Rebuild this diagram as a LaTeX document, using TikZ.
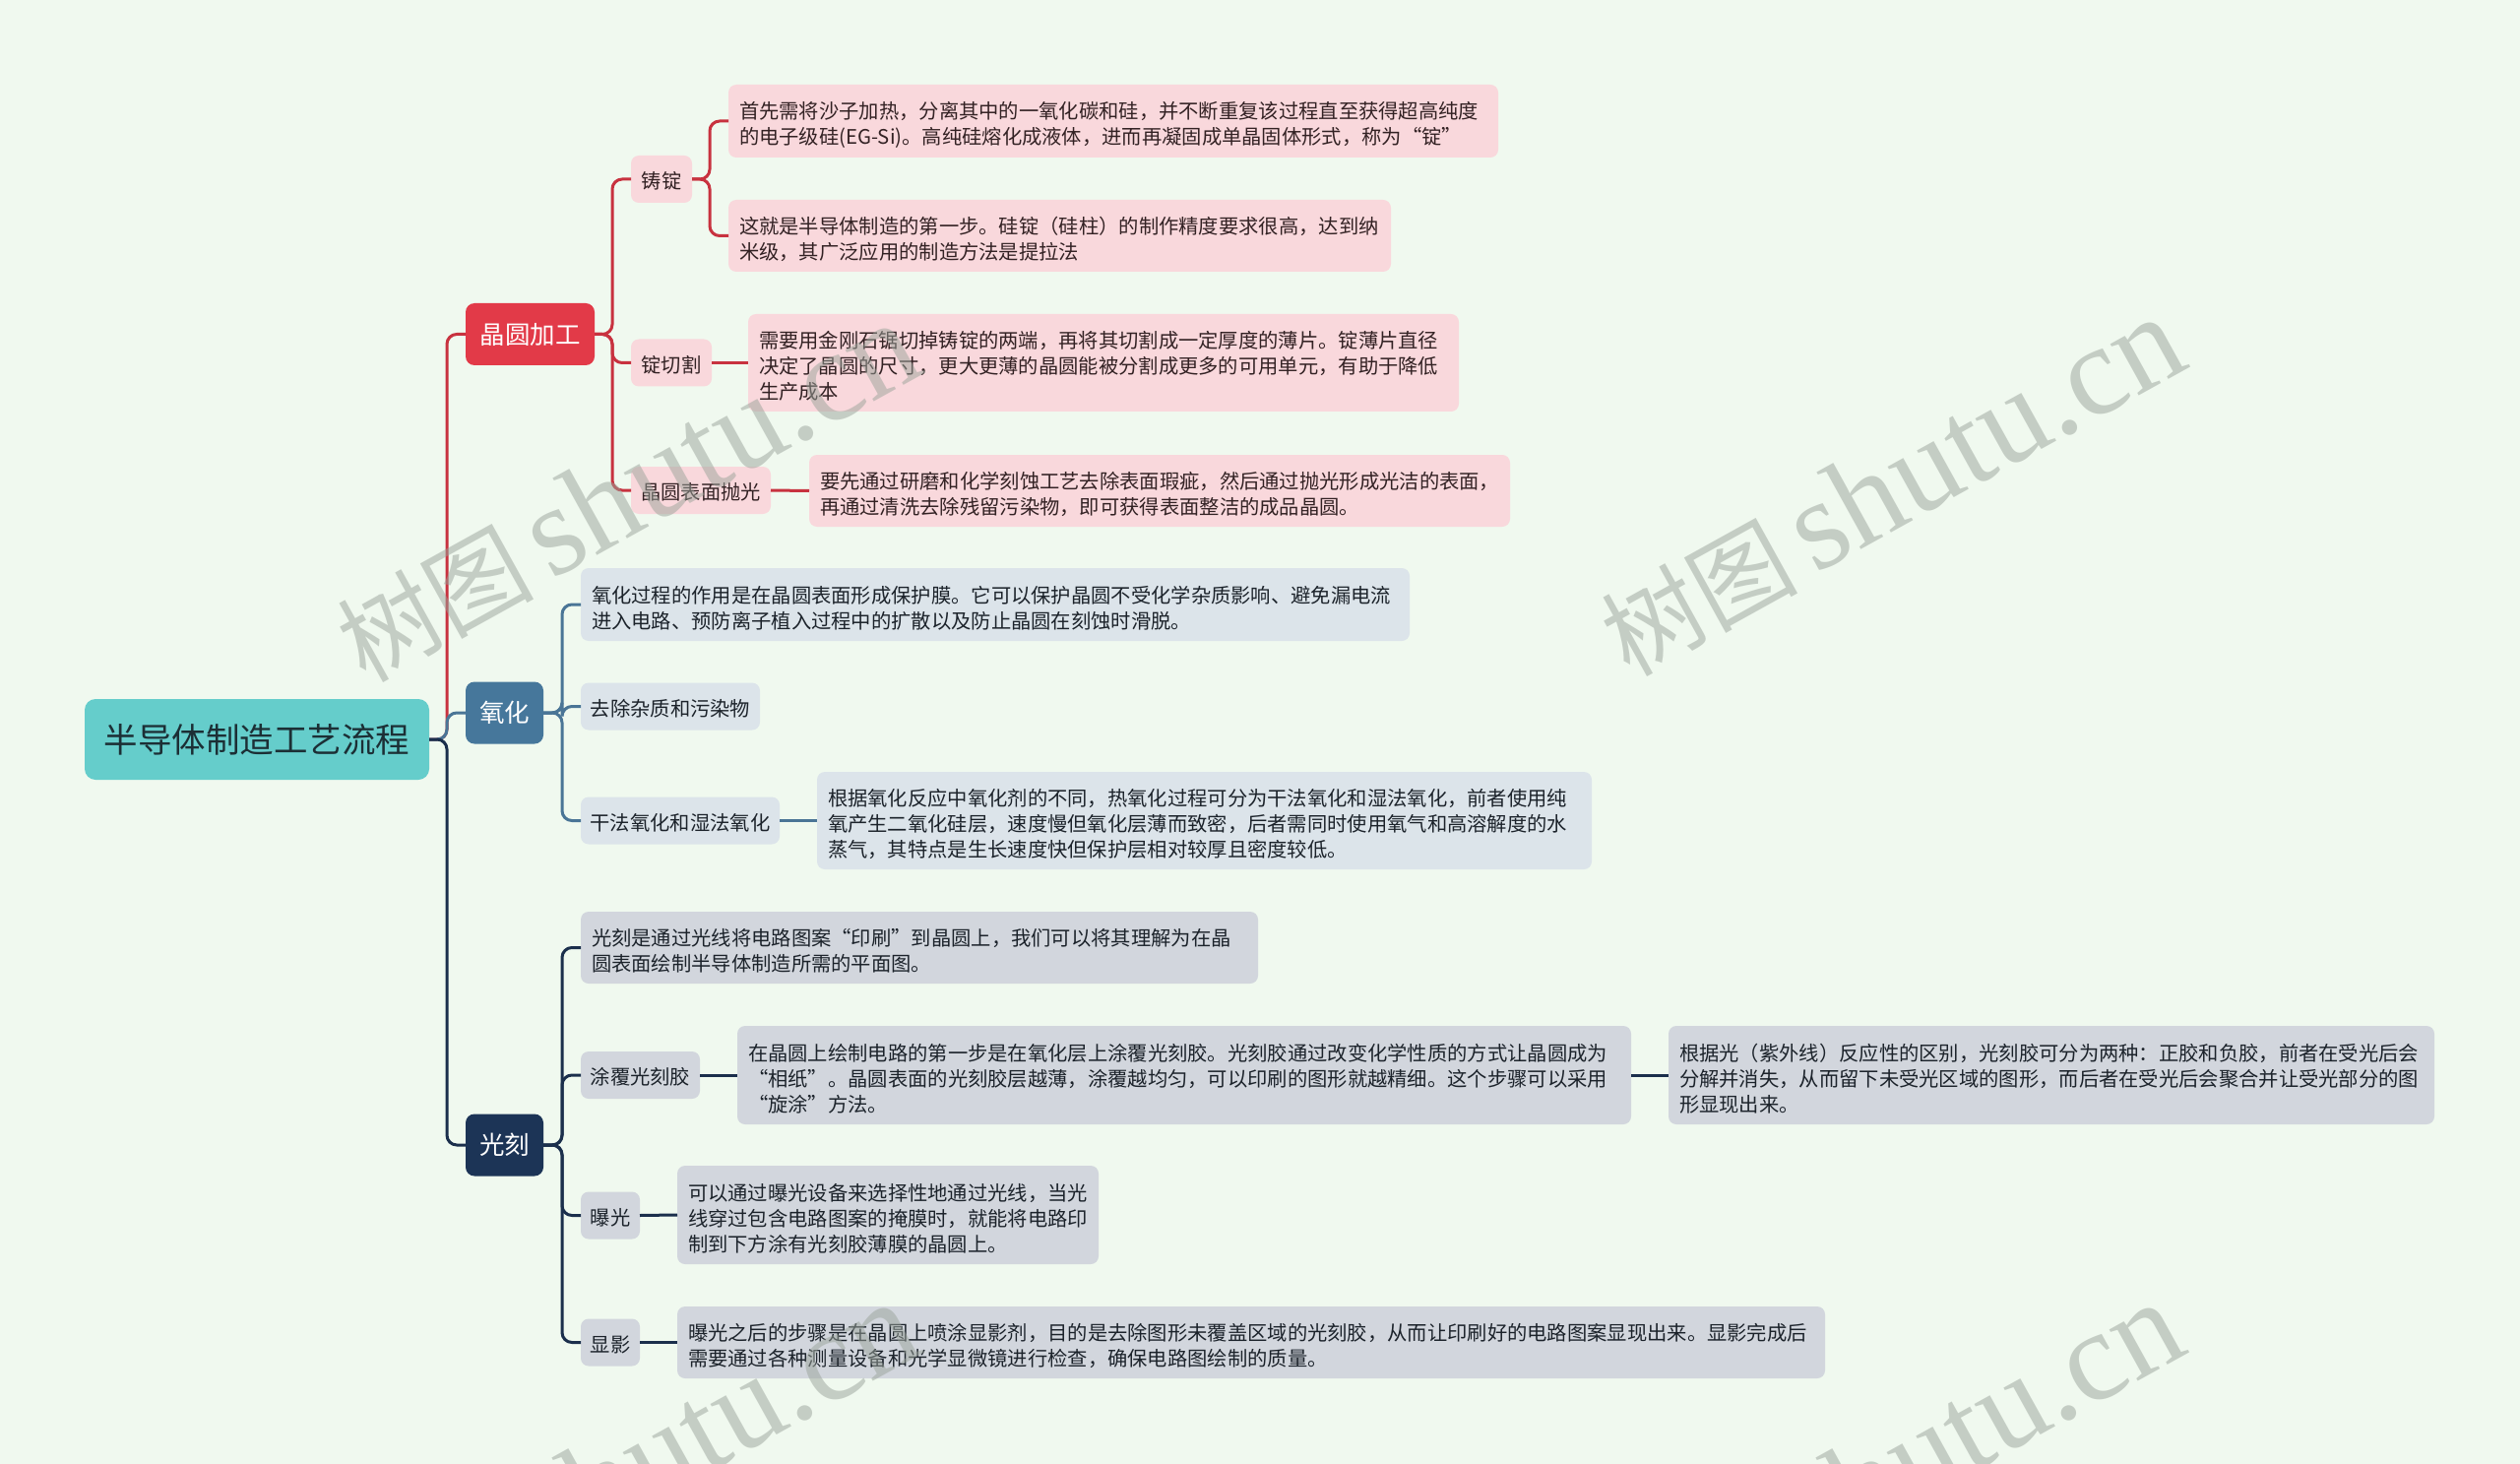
\documentclass[tikz,border=0pt]{standalone}
\usepackage{fontspec}
\newfontfamily\cjk{Noto Sans CJK SC}
\newfontfamily\wmserif{Liberation Serif}
\definecolor{cBg}{HTML}{F0F9EF}
\definecolor{cRoot}{HTML}{65CDCB}
\definecolor{cRootTxt}{HTML}{1C2F35}
\definecolor{cRed}{HTML}{E23A48}
\definecolor{cRedL}{HTML}{C8323F}
\definecolor{cPink}{HTML}{F9D8DC}
\definecolor{cPinkTxt}{HTML}{332224}
\definecolor{cBlue}{HTML}{46779B}
\definecolor{cBlueL}{HTML}{4A7596}
\definecolor{cBlueBox}{HTML}{DCE4EA}
\definecolor{cNavy}{HTML}{1C3456}
\definecolor{cNavyL}{HTML}{1B2F4C}
\definecolor{cGray}{HTML}{D2D6DD}
\definecolor{cDarkTxt}{HTML}{1C232B}
\definecolor{cWM}{HTML}{9AA39A}
\tikzset{
  box/.style={rounded corners=8pt, anchor=west, inner ysep=0pt, outer sep=0pt,
    font=\cjk\fontsize{20.3}{26}\selectfont},
  leaf/.style={box, inner xsep=0pt, minimum height=48pt, text height=20pt, text depth=0.5pt},
  para/.style={box, inner xsep=11pt, align=left, execute at begin node={\rule{0pt}{24pt}}},
  pleaf/.style={leaf, fill=cPink, text=cPinkTxt},
  ptext/.style={para, fill=cPink, text=cPinkTxt},
  bleaf/.style={leaf, fill=cBlueBox, text=cDarkTxt},
  btext/.style={para, fill=cBlueBox, text=cDarkTxt},
  gleaf/.style={leaf, fill=cGray, text=cDarkTxt},
  gtext/.style={para, fill=cGray, text=cDarkTxt},
  topic/.style={rounded corners=9pt, anchor=west, inner xsep=0pt, inner ysep=0pt, outer sep=0pt,
    minimum height=63pt, text=white, font=\cjk\fontsize{25.5}{30}\selectfont},
  link/.style={line width=3pt, rounded corners=10pt},
  wm/.style={text=cWM, text opacity=0.5, inner sep=0pt, rotate=29, anchor=base east}
}
\newcommand{\wmtext}{\cjk\fontsize{100}{100}\selectfont 树图\,\wmserif\fontsize{130}{130}\selectfont shutu.cn}
\begin{document}
\begin{tikzpicture}[x=1pt,y=-1pt]
\fill[cBg] (0,0) rectangle (2560,1487);
\useasboundingbox (0,0) rectangle (2560,1487);

% root and topics
\node[rounded corners=11pt, fill=cRoot, text=cRootTxt, anchor=west, inner sep=0pt, outer sep=0pt,
  minimum width=350pt, minimum height=82pt, font=\cjk\fontsize{34.5}{40}\selectfont] (root) at (86,751) {半导体制造工艺流程};
\node[topic, fill=cRed, minimum width=131pt] (wafer) at (473,339.5) {晶圆加工};
\node[topic, fill=cBlue, minimum width=79pt] (ox) at (473,724) {氧化};
\node[topic, fill=cNavy, minimum width=79pt] (litho) at (473,1163) {光刻};

% wafer branch
\node[pleaf, minimum width=62pt] (ingot) at (641,182) {铸锭};
\node[pleaf, minimum width=82pt] (cut) at (641,368.5) {锭切割};
\node[pleaf, minimum width=142pt] (polish) at (641,498) {晶圆表面抛光};
\node[ptext, text width=760pt, minimum height=74pt] (t1) at (740,123) {首先需将沙子加热，分离其中的一氧化碳和硅，并不断重复该过程直至获得超高纯度\\的电子级硅(EG-Si)。高纯硅熔化成液体，进而再凝固成单晶固体形式，称为“锭”};
\node[ptext, text width=651pt, minimum height=73pt] (t2) at (740,239.5) {这就是半导体制造的第一步。硅锭（硅柱）的制作精度要求很高，达到纳\\米级，其广泛应用的制造方法是提拉法};
\node[ptext, text width=700pt, minimum height=99pt] (t3) at (760,368.5) {需要用金刚石锯切掉铸锭的两端，再将其切割成一定厚度的薄片。锭薄片直径\\决定了晶圆的尺寸，更大更薄的晶圆能被分割成更多的可用单元，有助于降低\\生产成本};
\node[ptext, text width=690pt, minimum height=73pt] (t4) at (822,498.5) {要先通过研磨和化学刻蚀工艺去除表面瑕疵，然后通过抛光形成光洁的表面，\\再通过清洗去除残留污染物，即可获得表面整洁的成品晶圆。};

% oxidation branch
\node[btext, text width=820pt, minimum height=74pt] (o1) at (590,614) {氧化过程的作用是在晶圆表面形成保护膜。它可以保护晶圆不受化学杂质影响、避免漏电流\\进入电路、预防离子植入过程中的扩散以及防止晶圆在刻蚀时滑脱。};
\node[bleaf, minimum width=182pt] (rm) at (590,717.5) {去除杂质和污染物};
\node[bleaf, minimum width=202pt] (dry) at (590,833.5) {干法氧化和湿法氧化};
\node[btext, text width=765pt, minimum height=99pt] (o3) at (830,833.5) {根据氧化反应中氧化剂的不同，热氧化过程可分为干法氧化和湿法氧化，前者使用纯\\氧产生二氧化硅层，速度慢但氧化层薄而致密，后者需同时使用氧气和高溶解度的水\\蒸气，其特点是生长速度快但保护层相对较厚且密度较低。};

% lithography branch
\node[gtext, text width=666pt, minimum height=73pt] (p1) at (590,962.5) {光刻是通过光线将电路图案“印刷”到晶圆上，我们可以将其理解为在晶\\圆表面绘制半导体制造所需的平面图。};
\node[gleaf, minimum width=121pt] (coat) at (590,1092) {涂覆光刻胶};
\node[gtext, text width=886pt, minimum height=100pt] (p2) at (749,1092) {在晶圆上绘制电路的第一步是在氧化层上涂覆光刻胶。光刻胶通过改变化学性质的方式让晶圆成为\\“相纸”。晶圆表面的光刻胶层越薄，涂覆越均匀，可以印刷的图形就越精细。这个步骤可以采用\\“旋涂”方法。};
\node[gtext, text width=756pt, minimum height=100pt] (p2b) at (1695,1092) {根据光（紫外线）反应性的区别，光刻胶可分为两种：正胶和负胶，前者在受光后会\\分解并消失，从而留下未受光区域的图形，而后者在受光后会聚合并让受光部分的图\\形显现出来。};
\node[gleaf, minimum width=60pt] (expo) at (590,1234.5) {曝光};
\node[gtext, text width=406pt, minimum height=100pt] (p3) at (688,1234) {可以通过曝光设备来选择性地通过光线，当光\\线穿过包含电路图案的掩膜时，就能将电路印\\制到下方涂有光刻胶薄膜的晶圆上。};
\node[gleaf, minimum width=60pt] (dev) at (590,1363.5) {显影};
\node[gtext, text width=1144pt, minimum height=73pt] (p4) at (688,1363.5) {曝光之后的步骤是在晶圆上喷涂显影剂，目的是去除图形未覆盖区域的光刻胶，从而让印刷好的电路图案显现出来。显影完成后\\需要通过各种测量设备和光学显微镜进行检查，确保电路图绘制的质量。};

% connectors
\begin{scope}[link]
\draw[cRedL] (root.east) -- ++(18,0) |- (wafer.west);
\draw[cBlueL] (root.east) -- ++(18,0) |- (ox.west);
\draw[cNavyL] (root.east) -- ++(18,0) |- (litho.west);

\draw[cRedL] (wafer.east) -- ++(18,0) |- (ingot.west);
\draw[cRedL] (wafer.east) -- ++(18,0) |- (cut.west);
\draw[cRedL] (wafer.east) -- ++(18,0) |- (polish.west);
\draw[cRedL] (ingot.east) -- ++(18,0) |- (t1.west);
\draw[cRedL] (ingot.east) -- ++(18,0) |- (t2.west);
\draw[cRedL] (cut.east) -- (t3.west);
\draw[cRedL] (polish.east) -- (t4.west);

\draw[cBlueL] (ox.east) -- ++(19,0) |- (o1.west);
\draw[cBlueL] (ox.east) -- ++(19,0) |- (rm.west);
\draw[cBlueL] (ox.east) -- ++(19,0) |- (dry.west);
\draw[cBlueL] (dry.east) -- (o3.west);

\draw[cNavyL] (litho.east) -- ++(19,0) |- (p1.west);
\draw[cNavyL] (litho.east) -- ++(19,0) |- (coat.west);
\draw[cNavyL] (litho.east) -- ++(19,0) |- (expo.west);
\draw[cNavyL] (litho.east) -- ++(19,0) |- (dev.west);
\draw[cNavyL] (coat.east) -- (p2.west);
\draw[cNavyL] (p2.east) -- (p2b.west);
\draw[cNavyL] (expo.east) -- (p3.west);
\draw[cNavyL] (dev.east) -- (p4.west);
\end{scope}

% watermarks
\begin{scope}
\clip (0,0) rectangle (2560,1487);
\node[wm] (wm1) at (943,378) {\wmtext};
\node[wm] (wm2) at (2227,372) {\wmtext};
\node[wm] (wm3) at (942,1373) {\wmtext};
\node[wm] (wm4) at (2226,1373) {\wmtext};
\end{scope}
\end{tikzpicture}
\end{document}
